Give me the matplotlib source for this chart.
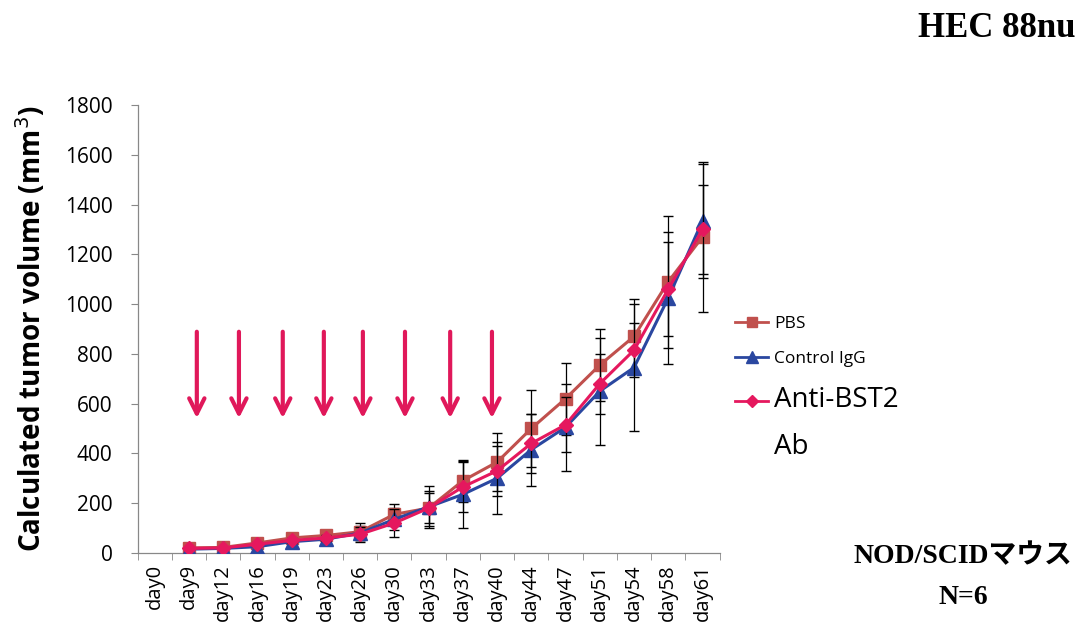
import matplotlib
matplotlib.use("Agg")
import matplotlib.pyplot as plt
from matplotlib.lines import Line2D
import numpy as np

days = ["day0", "day9", "day12", "day16", "day19", "day23", "day26", "day30", "day33",
        "day37", "day40", "day44", "day47", "day51", "day54", "day58", "day61"]

# values start at day9 (day0 has no measurement)
pbs = [20, 22, 40, 60, 70, 85, 155, 180, 290, 365, 500, 620, 755, 870, 1090, 1270]
pbs_err = [5, 6, 10, 12, 15, 35, 40, 70, 85, 115, 155, 145, 145, 150, 265, 300]
igg = [15, 18, 25, 45, 55, 80, 135, 185, 235, 300, 415, 505, 650, 745, 1025, 1335]
igg_err = [4, 5, 8, 10, 12, 30, 45, 85, 135, 145, 145, 175, 215, 255, 265, 230]
anti = [18, 20, 35, 50, 60, 75, 120, 180, 265, 330, 440, 515, 680, 815, 1060, 1300]
anti_err = [4, 5, 9, 10, 12, 30, 55, 60, 100, 100, 120, 110, 120, 110, 190, 180]

# treatment arrows (x in category units)
arrow_x = [1.23, 2.46, 3.74, 4.94, 6.08, 7.31, 8.63, 9.85]

c_pbs, c_igg, c_anti = "#C0504D", "#2A47A0", "#E5185E"

fig = plt.figure(figsize=(10.92, 6.29), dpi=100)
ax = fig.add_axes([0.126, 0.121, 0.533, 0.712])

x = np.arange(1, len(days))
ax.errorbar(x, pbs, yerr=pbs_err, color=c_pbs, marker="s", markersize=8.5, lw=2.2,
            ecolor="black", elinewidth=0.9, capsize=3.5, zorder=3)
ax.errorbar(x, igg, yerr=igg_err, color=c_igg, marker="^", markersize=9.5, lw=2.2,
            ecolor="black", elinewidth=0.9, capsize=3.5, zorder=3)
ax.errorbar(x, anti, yerr=anti_err, color=c_anti, marker="D", markersize=7.5, lw=2.2,
            ecolor="black", elinewidth=0.9, capsize=3.5, zorder=4)

for xa in arrow_x:
    ax.annotate("", xy=(xa, 530), xytext=(xa, 900),
                arrowprops=dict(arrowstyle="->,head_length=1.1,head_width=0.55",
                                color="#E0185A", lw=3))

ax.set_xlim(-0.5, len(days) - 0.5)
ax.set_ylim(0, 1800)
ax.set_yticks(np.arange(0, 1801, 200))
ax.set_xticks(np.arange(len(days)))
ax.set_xticklabels(days, rotation=90, fontsize=14.5, family="Open Sans")
ax.set_xticks(np.arange(-0.5, len(days)), minor=True)
ax.tick_params(axis="x", which="major", length=0, pad=8)
ax.tick_params(axis="x", which="minor", length=5, color="#888888")
ax.tick_params(axis="y", length=5, color="#888888", labelsize=15, pad=13)
for t in ax.get_yticklabels():
    t.set_family("Open Sans")
for s in ["top", "right"]:
    ax.spines[s].set_visible(False)
for s in ["left", "bottom"]:
    ax.spines[s].set_color("#888888")
    ax.spines[s].set_linewidth(0.9)

ax.set_ylabel("Calculated tumor volume (mm$^3$)", fontsize=20, fontweight="bold",
              family="Open Sans", labelpad=12)

handles = [
    Line2D([], [], color=c_pbs, marker="s", markersize=7, lw=2),
    Line2D([], [], color=c_igg, marker="^", markersize=8, lw=2),
    Line2D([], [], color=c_anti, marker="D", markersize=6, lw=2),
    Line2D([], [], color="none"),
]
leg = ax.legend(handles, ["PBS", "Control IgG", "Anti-BST2", "Ab"], loc="upper left",
                bbox_to_anchor=(1.0, 0.565), frameon=False,
                handlelength=1.9, handletextpad=0.35, labelspacing=1.1,
                prop={"family": "Open Sans", "size": 12.5})
leg.get_texts()[2].set_fontsize(20)
leg.get_texts()[3].set_fontsize(20)

fig.text(0.985, 0.955, "HEC 88nu", ha="right", va="center", fontsize=25,
         fontweight="bold", family="Liberation Serif")
fig.text(0.882, 0.115, "NOD/SCIDマウス", ha="center", va="center", fontsize=20,
         fontweight="bold", family=["Liberation Serif", "Noto Sans CJK JP"])
fig.text(0.882, 0.05, "N=6", ha="center", va="center", fontsize=20,
         fontweight="bold", family="Liberation Serif")

fig.savefig("out.png", dpi=100)
